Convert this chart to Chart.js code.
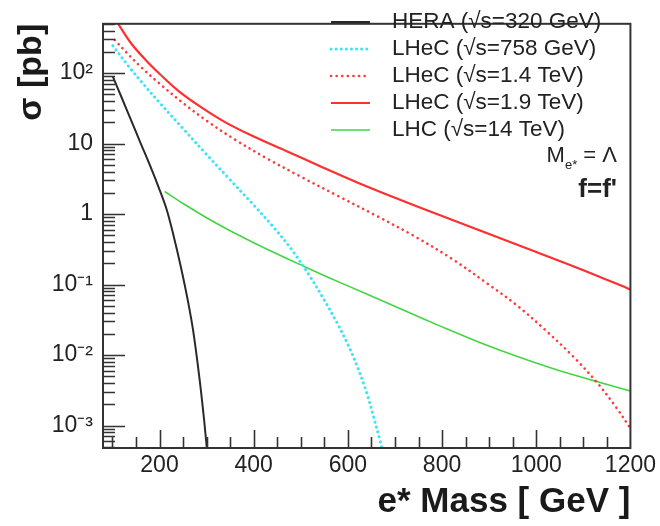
<!DOCTYPE html>
<html>
<head>
<meta charset="utf-8">
<script src="https://cdn.jsdelivr.net/npm/chart.js@4.4.0/dist/chart.umd.min.js"></script>
<style>
  html, body { margin: 0; padding: 0; background: #fff; }
</style>
</head>
<body>
<canvas id="chart" width="660" height="526"></canvas>
<script>
// values: e* mass [GeV] -> sigma [pb]
const heraMass = [101, 120, 140, 160, 180, 200, 215, 230, 245, 260, 272, 285, 295, 302]
const heraSigma = [89, 44.3, 21.2, 10.1, 4.85, 2.22, 1.17, 0.49, 0.182, 0.06, 0.021, 0.0046, 0.00115, 0.00037]

const lhec758Mass = [101, 130, 160, 200, 250, 300, 350, 400, 440, 480, 520, 550, 580, 600, 620, 640, 655, 668, 678]
const lhec758Sigma = [245, 136, 77.4, 38.1, 16.3, 7.0, 3.06, 1.34, 0.676, 0.318, 0.129, 0.06, 0.0263, 0.0141, 0.0069, 0.0029, 0.0013, 0.00062, 0.00034]

const lhec14Mass = [105, 130, 160, 200, 250, 300, 360, 430, 500, 580, 660, 740, 820, 900, 960, 1020, 1080, 1130, 1170, 1200]
const lhec14Sigma = [295, 195, 123, 71, 37.6, 21.1, 11.4, 6.05, 3.39, 1.79, 0.95, 0.49, 0.234, 0.099, 0.05, 0.0224, 0.0093, 0.004, 0.0018, 0.00091]

const lhec19Mass = [112, 140, 170, 200, 240, 285, 340, 400, 470, 540, 620, 700, 800, 900, 1000, 1100, 1200]
const lhec19Sigma = [501, 263, 155, 98, 56, 34, 20, 12.6, 7.8, 4.8, 2.8, 1.7, 0.94, 0.52, 0.29, 0.16, 0.085]

const lhcMass = [211, 250, 300, 350, 400, 450, 500, 560, 640, 720, 800, 880, 960, 1040, 1120, 1200]
const lhcSigma = [2.09, 1.41, 0.887, 0.579, 0.392, 0.271, 0.19, 0.125, 0.0735, 0.0427, 0.0251, 0.0151, 0.00955, 0.0063, 0.00437, 0.00309]

const seriesLabels = ['HERA (√s=320 GeV)', 'LHeC (√s=758 GeV)', 'LHeC (√s=1.4 TeV)', 'LHeC (√s=1.9 TeV)', 'LHC (√s=14 TeV)']

const xTickValues = [200, 400, 600, 800, 1000, 1200]
const yTickValues = [1e-3, 1e-2, 1e-1, 1, 10, 100]
const yTickLabels = ['10⁻³', '10⁻²', '10⁻¹', '1', '10', '10²']

const FONT = '"Liberation Sans", Arial, sans-serif'

const toPoints = (xs, ys) => xs.map((m, i) => ({ x: m, y: ys[i] }))

const curve = (label, xs, ys, color, width, dash) => ({
    label: label,
    data: toPoints(xs, ys),
    borderColor: color,
    borderWidth: width,
    borderDash: dash,
    borderCapStyle: dash.length ? 'round' : 'butt',
    borderJoinStyle: 'round',
    showLine: true,
    pointRadius: 0,
    tension: 0.35,
    fill: false
})

// ROOT style frame, inner tick marks, legend and the text labels
const rootFrame = {
    id: 'rootFrame',
    afterDatasetsDraw(chart) {
        const { ctx, chartArea: a, scales: { x, y } } = chart
        ctx.save()
        ctx.strokeStyle = '#333'
        ctx.lineWidth = 1.6
        ctx.beginPath()
        for (let d = -4; d <= 2; d++) {
            for (let k = 1; k <= 9; k++) {
                const v = k * Math.pow(10, d)
                if (v < y.min || v > y.max) continue
                const py = Math.round(y.getPixelForValue(v)) + 0.5
                ctx.moveTo(a.left, py)
                ctx.lineTo(a.left + (k === 1 ? 22 : 12), py)
            }
        }
        for (let m = 100; m < x.max; m += 50) {
            const px = Math.round(x.getPixelForValue(m)) + 0.5
            ctx.moveTo(px, a.bottom)
            ctx.lineTo(px, a.bottom - (m % 200 === 0 ? 18 : 11))
        }
        ctx.stroke()
        ctx.lineWidth = 2
        ctx.strokeRect(a.left, a.top, a.right - a.left, a.bottom - a.top)

        // legend
        ctx.font = '22.5px ' + FONT
        ctx.textBaseline = 'middle'
        ctx.textAlign = 'left'
        chart.data.datasets.forEach((ds, i) => {
            const ly = 22 + i * 27
            ctx.beginPath()
            ctx.strokeStyle = ds.borderColor
            ctx.lineWidth = ds.borderWidth
            ctx.lineCap = ds.borderCapStyle
            ctx.setLineDash(ds.borderDash)
            ctx.moveTo(331, ly)
            ctx.lineTo(370, ly)
            ctx.stroke()
            ctx.setLineDash([])
            ctx.fillStyle = '#222'
            ctx.fillText(ds.label, 392, ly)
        })

        // M_e* = Λ
        ctx.fillStyle = '#222'
        const right = 617
        ctx.font = '22px ' + FONT
        const wM = ctx.measureText('M').width
        const wEq = ctx.measureText(' = Λ').width
        ctx.font = '13px ' + FONT
        const wSub = ctx.measureText('e*').width
        let cx = right - wM - wSub - wEq
        ctx.font = '22px ' + FONT
        ctx.fillText('M', cx, 156)
        cx += wM
        ctx.font = '13px ' + FONT
        ctx.fillText('e*', cx, 165)
        cx += wSub
        ctx.font = '22px ' + FONT
        ctx.fillText(' = Λ', cx, 156)

        ctx.font = 'bold 26px ' + FONT
        ctx.textAlign = 'right'
        ctx.fillText("f=f'", right, 190)
        ctx.restore()
    }
}

new Chart(document.getElementById('chart'), {
    type: 'scatter',
    data: {
        datasets: [
            curve(seriesLabels[0], heraMass, heraSigma, '#2a2a2a', 2, []),
            curve(seriesLabels[1], lhec758Mass, lhec758Sigma, '#3fe4f4', 3, [0.1, 5]),
            curve(seriesLabels[2], lhec14Mass, lhec14Sigma, '#ff3a3a', 2.6, [0.1, 5.5]),
            curve(seriesLabels[3], lhec19Mass, lhec19Sigma, '#ff2f2f', 2.2, []),
            curve(seriesLabels[4], lhcMass, lhcSigma, '#44d444', 1.6, [])
        ]
    },
    options: {
        responsive: false,
        animation: false,
        devicePixelRatio: 1,
        layout: { padding: { top: 10, right: 28, left: 0, bottom: 0 } },
        plugins: { legend: { display: false }, tooltip: { enabled: false } },
        scales: {
            x: {
                type: 'linear',
                min: 80,
                max: 1200,
                afterBuildTicks: (scale) => { scale.ticks = xTickValues.map(v => ({ value: v })) },
                afterFit: (scale) => { scale.height = 78 },
                grid: { display: false, drawTicks: false },
                border: { display: false },
                ticks: {
                    padding: 4,
                    maxRotation: 0,
                    color: '#222',
                    font: { family: FONT, size: 23 },
                    callback: (v) => String(v)
                },
                title: {
                    display: true,
                    text: 'e* Mass [ GeV ]',
                    align: 'end',
                    color: '#1a1a1a',
                    padding: { top: 0, bottom: 3 },
                    font: { family: FONT, size: 35, weight: 'bold', lineHeight: 1.2 }
                }
            },
            y: {
                type: 'logarithmic',
                min: 4.8e-4,
                max: 500,
                afterBuildTicks: (scale) => { scale.ticks = yTickValues.map(v => ({ value: v })) },
                afterFit: (scale) => { scale.width = 103 },
                grid: { display: false, drawTicks: false },
                border: { display: false },
                ticks: {
                    padding: 10,
                    color: '#222',
                    font: { family: FONT, size: 23 },
                    callback: (v, i) => yTickLabels[i]
                },
                title: {
                    display: true,
                    text: 'σ [pb]',
                    align: 'end',
                    color: '#1a1a1a',
                    padding: { top: 11, bottom: 0 },
                    font: { family: FONT, size: 34, weight: 'bold', lineHeight: 1.2 }
                }
            }
        }
    },
    plugins: [rootFrame]
})
</script>
</body>
</html>
